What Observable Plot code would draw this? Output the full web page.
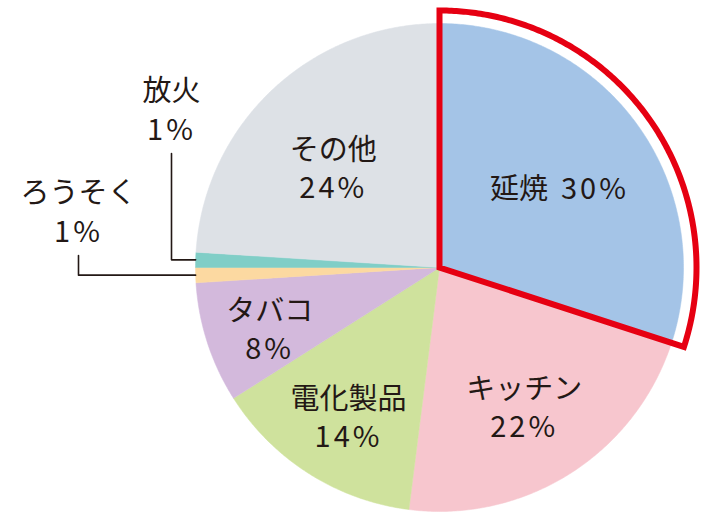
<!DOCTYPE html>
<html>
<head>
<meta charset="utf-8">
<script src="https://cdn.jsdelivr.net/npm/d3@7"></script>
<script src="https://cdn.jsdelivr.net/npm/@observablehq/plot@0.6"></script>
<style>
  html, body { margin: 0; padding: 0; background: #ffffff; }
  #chart svg { display: block; }
</style>
</head>
<body>
<div id="chart"></div>
<script>
// ---- data ----
const categories = ["延焼", "キッチン", "電化製品", "タバコ", "ろうそく", "放火", "その他"];
const shares = [30, 22, 14, 8, 1, 1, 24];
const colors = ["#a4c4e7", "#f7c6ce", "#cfe29d", "#d3b9dc", "#fcd9a1", "#80cec7", "#dde1e6"];
const highlighted = ["延焼"];

// ---- layout ----
const W = 718, H = 527;
const R = 244, CX = 439, CY = 267;
const FONT = "'Noto Sans CJK JP', 'Noto Sans', sans-serif";
const INK = "#231815";

const data = categories.map((c, i) => ({name: c, share: shares[i], color: colors[i]}));
const arcs = d3.pie().sort(null).value(d => d.share).startAngle(0).endAngle(2 * Math.PI)(data);

const pt = (a, r) => ({x: Math.sin(a) * r, y: Math.cos(a) * r});

// slice polygons
const slicePts = [];
arcs.forEach(a => {
  const n = Math.max(2, Math.ceil((a.endAngle - a.startAngle) / (Math.PI / 360)));
  slicePts.push({key: a.data.name, color: a.data.color, ...pt(0, 0)});
  for (let k = 0; k <= n; k++) {
    const ang = a.startAngle + (a.endAngle - a.startAngle) * k / n;
    slicePts.push({key: a.data.name, color: a.data.color, ...pt(ang, 1)});
  }
  slicePts.push({key: a.data.name, color: a.data.color, ...pt(0, 0)});
});

// highlight outline around the highlighted slice (slightly larger radius)
const outlinePts = [];
arcs.filter(a => highlighted.includes(a.data.name)).forEach(a => {
  const ro = 257 / R;
  outlinePts.push({key: a.data.name, ...pt(a.startAngle, ro / 2)});
  const n = 200;
  for (let k = 0; k <= n; k++) {
    const ang = a.startAngle + (a.endAngle - a.startAngle) * k / n;
    outlinePts.push({key: a.data.name, ...pt(ang, ro)});
  }
  outlinePts.push({key: a.data.name, ...pt(0, 0)});
  outlinePts.push({key: a.data.name, ...pt(a.startAngle, ro / 2)});
});

// labels
const px2x = px => (px - CX) / R;
const py2y = py => (CY - py) / R;
const labels = [], leaders = [];
// outside callout columns for tiny slices (in px)
const calloutX = {"ろうそく": 78, "放火": 171};
const calloutNameY = {"ろうそく": 193, "放火": 91};
const extraDown = {"その他": 7};
arcs.forEach(a => {
  const d = a.data, mid = (a.startAngle + a.endAngle) / 2, frac = d.share / 100;
  if (frac < 0.05) {
    const e = pt(mid, 1);
    const lx = px2x(calloutX[d.name]);
    const ny = py2y(calloutNameY[d.name]);
    labels.push({x: lx, y: ny, text: d.name, anchor: "middle"});
    labels.push({x: lx, y: ny - 39 / R, text: d.share + "%", anchor: "middle"});
    const top = ny - 62 / R;
    leaders.push({key: d.name, x: lx, y: top});
    leaders.push({key: d.name, x: lx, y: e.y});
    leaders.push({key: d.name, x: e.x, y: e.y});
  } else {
    const r = 0.78 - 0.6 * frac;
    const c = pt(mid, r);
    c.y -= (8 + (extraDown[d.name] || 0)) / R;
    if (highlighted.includes(d.name)) {
      labels.push({x: c.x - 10 / R, y: c.y, text: d.name, anchor: "end"});
      labels.push({x: c.x + 3 / R, y: c.y, text: d.share + "%", anchor: "start"});
    } else {
      labels.push({x: c.x, y: c.y + 19 / R, text: d.name, anchor: "middle"});
      labels.push({x: c.x, y: c.y - 19 / R, text: d.share + "%", anchor: "middle"});
    }
  }
});

const textMark = anchor => Plot.text(labels.filter(l => l.anchor === anchor), {
  x: "x", y: "y", text: "text", textAnchor: anchor, fontSize: 29, fontFamily: FONT, fill: INK
});

const chart = Plot.plot({
  width: W,
  height: H,
  margin: 0,
  x: {domain: [px2x(0), px2x(W)], range: [0, W], axis: null},
  y: {domain: [py2y(H), py2y(0)], range: [H, 0], axis: null},
  color: {type: "identity"},
  style: {background: "#ffffff", overflow: "visible"},
  marks: [
    Plot.line(slicePts, {x: "x", y: "y", z: "key", fill: "color", stroke: "color", strokeWidth: 0.5, curve: "linear"}),
    Plot.line(outlinePts, {x: "x", y: "y", z: "key", stroke: "#e60012", strokeWidth: 6, strokeLinejoin: "miter", strokeMiterlimit: 10, fill: "none", curve: "linear"}),
    Plot.line(leaders, {x: "x", y: "y", z: "key", stroke: INK, strokeWidth: 1.6, curve: "linear"}),
    textMark("middle"),
    textMark("start"),
    textMark("end")
  ]
});
// wider digit spacing for the percentage labels
d3.select(chart).selectAll("text").filter(function() { return /%/.test(this.textContent); }).attr("letter-spacing", "3px");
document.getElementById("chart").appendChild(chart);
</script>
</body>
</html>
